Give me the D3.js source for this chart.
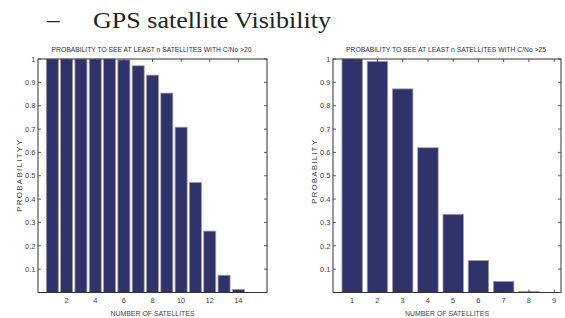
<!DOCTYPE html>
<html>
<head>
<meta charset="utf-8">
<script src="https://cdn.jsdelivr.net/npm/d3@7"></script>
<style>
  body { margin: 0; background: #fff; }
  svg { display: block; }
  .tick-label { font-family: "Liberation Sans", Arial, sans-serif; font-size: 7.5px; fill: #444; }
  .sub-title { font-family: "Liberation Sans", Arial, sans-serif; font-size: 7px; fill: #333; }
  .axis-label { font-family: "Liberation Sans", Arial, sans-serif; font-size: 8px; fill: #444; }
</style>
</head>
<body>
<svg id="chart" width="565" height="318"></svg>
<script>
// data
var satsLeft = [1, 2, 3, 4, 5, 6, 7, 8, 9, 10, 11, 12, 13, 14, 15];
var probLeft = [1, 1, 1, 1, 1, 0.996, 0.971, 0.931, 0.854, 0.708, 0.471, 0.263, 0.074, 0.013, 0];
var ticksLeft = [2, 4, 6, 8, 10, 12, 14];

var satsRight = [1, 2, 3, 4, 5, 6, 7, 8, 9];
var probRight = [1, 0.99, 0.872, 0.62, 0.335, 0.137, 0.047, 0.004, 0];
var ticksRight = [1, 2, 3, 4, 5, 6, 7, 8, 9];

var yTicks = [0.1, 0.2, 0.3, 0.4, 0.5, 0.6, 0.7, 0.8, 0.9, 1];

var svg = d3.select("#chart");

// main heading
svg.append("text")
  .attr("x", 47).attr("y", 28)
  .style("font-family", "'Liberation Serif', 'Times New Roman', serif")
  .style("font-size", "25px")
  .style("fill", "#222")
  .text("\u2013");

svg.append("text")
  .attr("x", 93).attr("y", 28)
  .attr("textLength", 238)
  .attr("lengthAdjust", "spacingAndGlyphs")
  .style("font-family", "'Liberation Serif', 'Times New Roman', serif")
  .style("font-size", "24px")
  .style("fill", "#222")
  .text("GPS satellite Visibility");

function drawPanel(opts) {
  var g = svg.append("g");
  var left = opts.left, right = opts.right, top = 59, bottom = 292.5;

  var x = d3.scaleLinear().domain(opts.xDomain).range([left, right]);
  var y = d3.scaleLinear().domain([0, 1]).range([bottom, top]);
  var unit = x(1) - x(0);
  var bw = unit * opts.barFrac;

  g.selectAll("rect.bar")
    .data(opts.values)
    .enter().append("rect")
    .classed("bar", true)
    .attr("x", function (d, i) { return x(opts.cats[i]) - bw / 2; })
    .attr("y", function (d) { return y(d); })
    .attr("width", bw)
    .attr("height", function (d) { return bottom - y(d); })
    .attr("fill", "#30326a")
    .attr("stroke", "#a0a0a8")
    .attr("stroke-width", 0.8);

  // box
  g.append("rect")
    .attr("x", left).attr("y", top)
    .attr("width", right - left).attr("height", bottom - top)
    .attr("fill", "none")
    .attr("stroke", "#333")
    .attr("stroke-width", 1);

  // y ticks, inward on both sides
  yTicks.forEach(function (t) {
    g.append("line")
      .attr("x1", left).attr("x2", left + 3)
      .attr("y1", y(t)).attr("y2", y(t))
      .attr("stroke", "#333").attr("stroke-width", 0.8);
    g.append("line")
      .attr("x1", right - 3).attr("x2", right)
      .attr("y1", y(t)).attr("y2", y(t))
      .attr("stroke", "#333").attr("stroke-width", 0.8);
    g.append("text")
      .classed("tick-label", true)
      .attr("x", left - 2.5)
      .attr("y", y(t) + 2.7)
      .attr("text-anchor", "end")
      .text(t === 1 ? "1" : t.toFixed(1));
  });

  // x ticks, inward on top and bottom
  opts.ticks.forEach(function (t) {
    g.append("line")
      .attr("x1", x(t)).attr("x2", x(t))
      .attr("y1", bottom).attr("y2", bottom - 3)
      .attr("stroke", "#333").attr("stroke-width", 0.8);
    g.append("line")
      .attr("x1", x(t)).attr("x2", x(t))
      .attr("y1", top).attr("y2", top + 3)
      .attr("stroke", "#333").attr("stroke-width", 0.8);
    g.append("text")
      .classed("tick-label", true)
      .attr("x", x(t))
      .attr("y", bottom + 10.5)
      .attr("text-anchor", "middle")
      .text(t);
  });

  var mid = (left + right) / 2;

  g.append("text")
    .classed("sub-title", true)
    .attr("x", mid - 1).attr("y", 51.5)
    .attr("text-anchor", "middle")
    .attr("textLength", 200)
    .attr("lengthAdjust", "spacingAndGlyphs")
    .text(opts.title);

  g.append("text")
    .classed("axis-label", true)
    .attr("x", mid).attr("y", 315.5)
    .attr("text-anchor", "middle")
    .attr("textLength", 84)
    .attr("lengthAdjust", "spacingAndGlyphs")
    .text("NUMBER OF SATELLITES");

  g.append("text")
    .classed("axis-label", true)
    .attr("transform", "translate(" + opts.yLabelX + " " + opts.yLabelY + ") rotate(-90)")
    .attr("text-anchor", "middle")
    .attr("textLength", opts.yLabelLen)
    .attr("lengthAdjust", "spacing")
    .text(opts.yLabel);
}

drawPanel({
  left: 38, right: 267,
  xDomain: [0, 16],
  cats: satsLeft, values: probLeft, ticks: ticksLeft,
  barFrac: 0.84,
  title: "PROBABILITY TO SEE AT LEAST n SATELLITES WITH C/No >20",
  yLabel: "PROBABILITYY", yLabelX: 22, yLabelY: 176, yLabelLen: 72
});

drawPanel({
  left: 333, right: 561,
  xDomain: [0.24, 9.27],
  cats: satsRight, values: probRight, ticks: ticksRight,
  barFrac: 0.81,
  title: "PROBABILITY TO SEE AT LEAST n SATELLITES WITH C/No >25",
  yLabel: "PROBABILITY", yLabelX: 317, yLabelY: 172, yLabelLen: 64
});
</script>
</body>
</html>
